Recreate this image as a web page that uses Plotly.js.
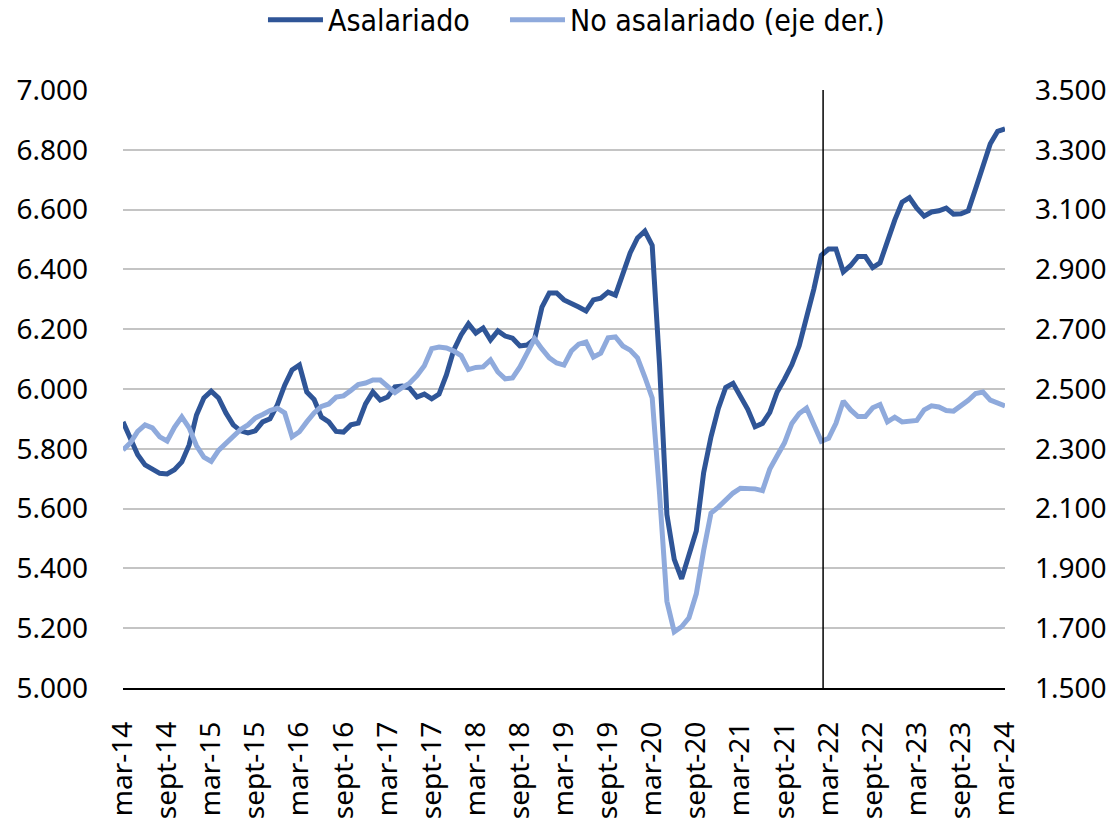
<!DOCTYPE html>
<html>
<head>
<meta charset="utf-8">
<script src="https://cdn.plot.ly/plotly-3.0.1.min.js"></script>
<style>
  html, body { margin: 0; padding: 0; background: #ffffff; }
  #chart { width: 1119px; height: 820px; }
</style>
</head>
<body>
<div id="chart"></div>
<script>
// Month abbreviations (Spanish) and years used to build the monthly categories mar-14 .. mar-24
const meses = ['ene', 'feb', 'mar', 'abr', 'may', 'jun', 'jul', 'ago', 'sept', 'oct', 'nov', 'dic'];
const anios = ['14', '15', '16', '17', '18', '19', '20', '21', '22', '23', '24'];

const categorias = [];
anios.forEach(function (a, ai) {
  meses.forEach(function (m, mi) {
    if (ai === 0 && mi < 2) return;               // start at mar-14
    if (ai === anios.length - 1 && mi > 2) return; // end at mar-24
    categorias.push(m + '-' + a);
  });
});

// Tick labels shown on the x axis
const etiquetasX = ['mar-14', 'sept-14', 'mar-15', 'sept-15', 'mar-16', 'sept-16', 'mar-17', 'sept-17',
  'mar-18', 'sept-18', 'mar-19', 'sept-19', 'mar-20', 'sept-20', 'mar-21', 'sept-21', 'mar-22',
  'sept-22', 'mar-23', 'sept-23', 'mar-24'];

// Asalariado (left axis), monthly values
const asalariado = [
  5890, 5830, 5780, 5746, 5733, 5718, 5716, 5730, 5756, 5813, 5913, 5970,
  5993, 5970, 5920, 5880, 5860, 5853, 5860, 5890, 5900, 5947, 6013, 6064,
  6080, 5990, 5965, 5906, 5890, 5858, 5856, 5880, 5886, 5950, 5990, 5963,
  5973, 6007, 6010, 6003, 5973, 5983, 5967, 5983, 6047, 6130, 6181, 6218,
  6187, 6204, 6164, 6194, 6177, 6170, 6144, 6147, 6167, 6274, 6321, 6321,
  6298, 6284, 6274, 6261, 6298, 6304, 6324, 6314, 6391, 6455, 6505, 6528,
  6480, 6080, 5580, 5430, 5365, 5450, 5525, 5720, 5840, 5935, 6005, 6019,
  5977, 5932, 5874, 5885, 5922, 5990, 6033, 6081, 6145, 6240, 6335, 6447,
  6468, 6468, 6392, 6413, 6443, 6443, 6406, 6422, 6496, 6565, 6625, 6640,
  6605, 6578, 6592, 6596, 6605, 6585, 6586, 6596, 6670, 6750, 6820, 6862,
  6870
];

// No asalariado (right axis), monthly values
const noAsalariado = [
  2296, 2320, 2358, 2380, 2370, 2340, 2326, 2372, 2407, 2370, 2310, 2272,
  2258, 2295, 2318, 2343, 2365, 2380, 2403, 2415, 2428, 2436, 2420, 2340,
  2357, 2390, 2420, 2442, 2450, 2473, 2477, 2495, 2515, 2520, 2530, 2530,
  2510, 2488, 2505, 2520, 2545, 2578, 2635, 2640, 2637, 2627, 2612, 2565,
  2572, 2574, 2597, 2557, 2534, 2537, 2574, 2620, 2668, 2634, 2604, 2587,
  2580, 2627, 2650, 2657, 2607, 2620, 2671, 2674, 2644, 2630, 2604, 2540,
  2470, 2150, 1790, 1688, 1705, 1735, 1815, 1960, 2085, 2105, 2127, 2152,
  2168, 2168, 2166, 2160, 2232, 2277, 2320, 2385, 2418, 2436, 2380, 2325,
  2335, 2385, 2460, 2430, 2408, 2408, 2437, 2448, 2390, 2406, 2390, 2392,
  2395, 2430, 2444, 2440, 2428, 2426, 2443, 2462, 2485, 2490, 2463, 2453,
  2443
];

const lineaReferencia = 'mar-22';

const colorOscuro = '#2f5597';
const colorClaro = '#8faadc';
const fuenteEjes = { family: 'Noto Sans, Open Sans, sans-serif', size: 28, color: '#000000' };
const fuenteLeyenda = { family: 'Liberation Sans Narrow, DejaVu Sans Condensed, sans-serif', size: 30, color: '#000000' };

const traces = [
  {
    x: categorias, y: asalariado, name: 'Asalariado', type: 'scatter', mode: 'lines',
    line: { color: colorOscuro, width: 5 }, yaxis: 'y', legend: 'legend'
  },
  {
    x: categorias, y: noAsalariado, name: 'No asalariado (eje der.)', type: 'scatter', mode: 'lines',
    line: { color: colorClaro, width: 5 }, yaxis: 'y2', legend: 'legend2'
  }
];

const idxRef = categorias.indexOf(lineaReferencia) - 0.75;

const legendBase = {
  orientation: 'h', xanchor: 'left', yref: 'container', y: 0.976, yanchor: 'middle',
  font: fuenteLeyenda, itemwidth: 55, bgcolor: 'rgba(0,0,0,0)'
};

const layout = {
  width: 1119, height: 820,
  margin: { l: 123, r: 114, t: 90, b: 132, pad: 0 },
  paper_bgcolor: '#ffffff', plot_bgcolor: '#ffffff',
  separators: ',.',
  showlegend: true,
  legend: Object.assign({}, legendBase, { x: 0.1587 }),
  legend2: Object.assign({}, legendBase, { x: 0.4331 }),
  xaxis: {
    type: 'category', range: [0, categorias.length - 1],
    tickmode: 'array', tickvals: etiquetasX, ticktext: etiquetasX,
    tickangle: -90, tickfont: fuenteEjes, ticks: '', ticklabelstandoff: 21,
    showgrid: false, zeroline: false,
    showline: true, linecolor: '#000000', linewidth: 1.5
  },
  yaxis: {
    range: [5000, 7000], dtick: 200, tick0: 5000, tickformat: ',.0f',
    tickfont: fuenteEjes, ticks: '', ticklabelstandoff: 34,
    showgrid: true, gridcolor: '#c4c4c4', gridwidth: 2,
    zeroline: false, showline: false
  },
  yaxis2: {
    range: [1500, 3500], dtick: 200, tick0: 1500, tickformat: ',.0f',
    overlaying: 'y', side: 'right',
    tickfont: fuenteEjes, ticks: '', ticklabelstandoff: 29,
    showgrid: false, zeroline: false, showline: false
  },
  shapes: [
    {
      type: 'line', xref: 'x', yref: 'paper', x0: idxRef, x1: idxRef, y0: 0, y1: 1,
      line: { color: '#000000', width: 1.5 }, layer: 'above'
    }
  ]
};

Plotly.newPlot('chart', traces, layout, { displayModeBar: false, staticPlot: true });
</script>
</body>
</html>
